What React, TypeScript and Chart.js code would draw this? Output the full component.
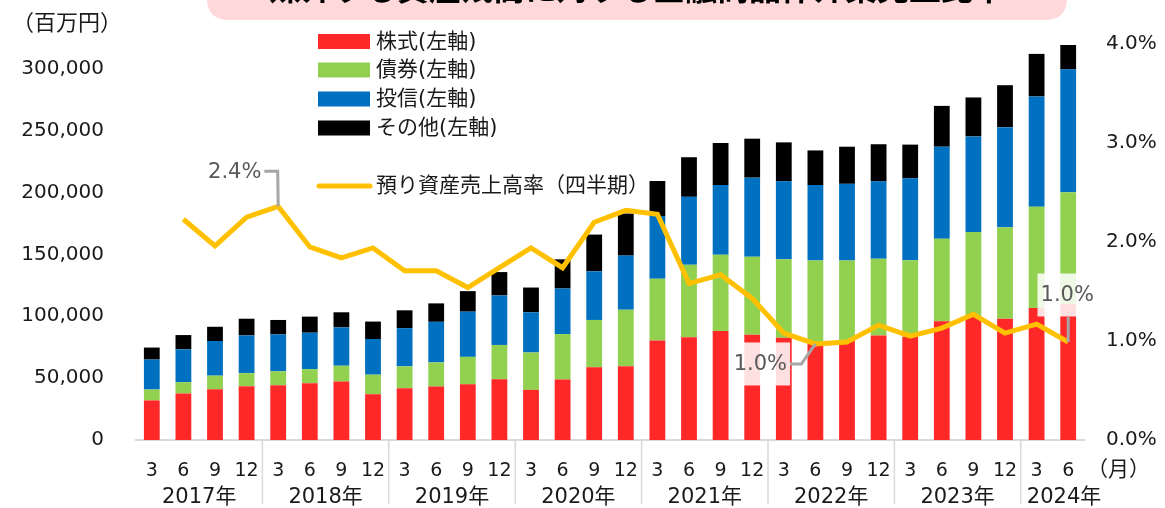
import React, { useEffect, useRef } from "react";
import { Chart, registerables } from "chart.js";

Chart.register(...registerables);

const TITLE = "媒介する資産残高に対する金融商品仲介業売上比率";
const UNIT_LEFT = "（百万円）";
const UNIT_X = "（月）";

const categories = [
  "2017/3", "2017/6", "2017/9", "2017/12",
  "2018/3", "2018/6", "2018/9", "2018/12",
  "2019/3", "2019/6", "2019/9", "2019/12",
  "2020/3", "2020/6", "2020/9", "2020/12",
  "2021/3", "2021/6", "2021/9", "2021/12",
  "2022/3", "2022/6", "2022/9", "2022/12",
  "2023/3", "2023/6", "2023/9", "2023/12",
  "2024/3", "2024/6",
];

// 百万円
const stocks = [
  32000, 37600, 41000, 43500,
  44300, 45900, 47200, 37000,
  41900, 43200, 45000, 49000,
  40500, 48800, 58700, 59500,
  80500, 83000, 88000, 85000,
  82700, 79000, 80000, 84500,
  83500, 96000, 100000, 97900,
  106700, 109800,
];
const bonds = [
  8800, 9100, 11000, 10500,
  11200, 11400, 12800, 15800,
  17600, 19500, 22200, 27800,
  30200, 36800, 38300, 45800,
  49900, 58600, 61600, 63000,
  63300, 66000, 65000, 61900,
  61800, 66700, 68000, 74100,
  81800, 90500,
];
const funds = [
  24200, 26600, 28000, 30500,
  29800, 29400, 31000, 28800,
  30900, 32800, 36500, 40000,
  32500, 36800, 39300, 43700,
  50600, 54900, 56400, 64000,
  63000, 61000, 62000, 62600,
  66200, 74300, 77300, 80800,
  89100, 99200,
];
const others = [
  9700, 11500, 11500, 13500,
  11700, 13000, 12200, 14100,
  14400, 14900, 16600, 18900,
  20000, 23600, 29700, 34000,
  28300, 32000, 34000, 31500,
  31500, 28000, 30000, 30000,
  27200, 33000, 31500, 33900,
  34400, 19700,
];
// %
const salesRatio = [
  null, 2.23, 1.96, 2.25,
  2.36, 1.95, 1.84, 1.94,
  1.71, 1.71, 1.54, 1.74,
  1.94, 1.74, 2.2, 2.32,
  2.28, 1.58, 1.67, 1.43,
  1.08, 0.97, 0.99, 1.16,
  1.05, 1.13, 1.27, 1.08,
  1.17, 0.99,
];

const seriesLabels = ["株式(左軸)", "債券(左軸)", "投信(左軸)", "その他(左軸)"];
const seriesColors = ["#FF2828", "#92D050", "#0070C0", "#000000"];
const lineLabel = "預り資産売上高率（四半期）";
const lineColor = "#FFC000";

// indices of line points carrying a data label
const labelledPoints = [4, 21, 29];

const leftTicks = [0, 50000, 100000, 150000, 200000, 250000, 300000];
const LEFT_MAX = 320000;
const rightTicks = [0, 1, 2, 3, 4];
const RIGHT_MAX = 4;

const FONT = "'DejaVu Sans', 'Noto Sans CJK JP', sans-serif";

const labelLayout: Record<number, { dx: number; dy: number; leader: number[][] }> = {
  4: { dx: -43.5, dy: -35, leader: [[-15, -35], [-0.5, -35], [0, 0]] },
  21: { dx: -55, dy: 20, leader: [[-26, 20], [-14, 20], [0, 0]] },
  29: { dx: -1, dy: -47, leader: [[0, -25], [0, 0]] },
};

function roundRect(ctx: CanvasRenderingContext2D, x: number, y: number, w: number, h: number, r: number) {
  ctx.beginPath();
  ctx.moveTo(x + r, y);
  ctx.lineTo(x + w - r, y);
  ctx.quadraticCurveTo(x + w, y, x + w, y + r);
  ctx.lineTo(x + w, y + h - r);
  ctx.quadraticCurveTo(x + w, y + h, x + w - r, y + h);
  ctx.lineTo(x + r, y + h);
  ctx.quadraticCurveTo(x, y + h, x, y + h - r);
  ctx.lineTo(x, y + r);
  ctx.quadraticCurveTo(x, y, x + r, y);
  ctx.closePath();
}

const overlay = {
  id: "overlay",
  afterDatasetsDraw(chart: any) {
    const ctx: CanvasRenderingContext2D = chart.ctx;
    const meta = chart.getDatasetMeta(0);
    ctx.save();
    ctx.font = `21px ${FONT}`;
    ctx.textAlign = "center";
    ctx.textBaseline = "middle";
    labelledPoints.forEach((i) => {
      const pt = meta.data[i];
      const v = salesRatio[i];
      if (!pt || v == null) return;
      const lay = labelLayout[i];
      const txt = v.toFixed(1) + "%";
      const tw = ctx.measureText(txt).width;
      const cx = pt.x + lay.dx;
      const cy = pt.y + lay.dy;
      ctx.strokeStyle = "#A6A6A6";
      ctx.lineWidth = 3;
      ctx.beginPath();
      lay.leader.forEach(([lx, ly], k) => {
        if (k === 0) ctx.moveTo(pt.x + lx, pt.y + ly);
        else ctx.lineTo(pt.x + lx, pt.y + ly);
      });
      ctx.stroke();
      ctx.fillStyle = "rgba(255,255,255,0.86)";
      ctx.fillRect(cx - tw / 2 - 3, cy - 21.5, tw + 6, 43);
      ctx.fillStyle = "#595959";
      ctx.fillText(txt, cx, cy + 1);
    });
    ctx.restore();
  },
  afterDraw(chart: any) {
    const ctx: CanvasRenderingContext2D = chart.ctx;
    const xs = chart.scales.x;
    const ca = chart.chartArea;
    ctx.save();

    // title box (clipped at top)
    ctx.fillStyle = "#FFD9D9";
    roundRect(ctx, 207, -40, 860, 60, 22);
    ctx.fill();
    ctx.fillStyle = "#000000";
    ctx.font = `bold 32px ${FONT}`;
    ctx.textAlign = "center";
    ctx.textBaseline = "middle";
    ctx.fillText(TITLE, 637, -8);

    // unit labels
    ctx.fillStyle = "#1a1a1a";
    ctx.font = `22px ${FONT}`;
    ctx.textAlign = "left";
    ctx.fillText(UNIT_LEFT, 12, 24);
    ctx.font = `21px ${FONT}`;
    ctx.fillText(UNIT_X, 1087, 471);

    // month labels
    ctx.textAlign = "center";
    ctx.font = `19px ${FONT}`;
    categories.forEach((c, i) => {
      const m = c.split("/")[1];
      ctx.fillText(m, xs.getPixelForValue(i), 471);
    });

    // year groups
    const groups: { year: string; first: number; last: number }[] = [];
    categories.forEach((c, i) => {
      const y = c.split("/")[0];
      const g = groups[groups.length - 1];
      if (g && g.year === y) g.last = i;
      else groups.push({ year: y, first: i, last: i });
    });
    ctx.font = `21px ${FONT}`;
    ctx.strokeStyle = "#D9D9D9";
    ctx.lineWidth = 1.5;
    groups.forEach((g, gi) => {
      const x0 = xs.getPixelForValue(g.first);
      const x1 = xs.getPixelForValue(g.last);
      let sepLeft = ca.left;
      if (gi > 0) {
        sepLeft = (xs.getPixelForValue(g.first - 1) + x0) / 2;
        ctx.beginPath();
        ctx.moveTo(sepLeft, ca.bottom);
        ctx.lineTo(sepLeft, 504);
        ctx.stroke();
      }
      const txt = g.year + "年";
      const tw = ctx.measureText(txt).width;
      let cx = (x0 + x1) / 2;
      cx = Math.max(cx, sepLeft + tw / 2 + 6);
      ctx.fillText(txt, cx, 498);
    });

    // legend
    ctx.textAlign = "left";
    ctx.textBaseline = "middle";
    ctx.font = `21px ${FONT}`;
    const rows = [41.5, 70, 99, 128];
    seriesLabels.forEach((lab, i) => {
      ctx.fillStyle = seriesColors[i];
      ctx.fillRect(318, rows[i] - 7.5, 52, 15);
      ctx.fillStyle = "#1a1a1a";
      ctx.fillText(lab, 376, rows[i] + 1);
    });
    ctx.strokeStyle = lineColor;
    ctx.lineWidth = 5;
    ctx.lineCap = "round";
    ctx.beginPath();
    ctx.moveTo(319, 186);
    ctx.lineTo(370, 186);
    ctx.stroke();
    ctx.fillStyle = "#1a1a1a";
    ctx.fillText(lineLabel, 376, 187);

    ctx.restore();
  },
};

export default function App() {
  const ref = useRef<HTMLCanvasElement>(null);
  useEffect(() => {
    document.body.style.margin = "0";
    const barSets = [stocks, bonds, funds, others].map((d, i) => ({
      type: "bar" as const,
      label: seriesLabels[i],
      data: d,
      backgroundColor: seriesColors[i],
      yAxisID: "y",
      order: 1,
      stack: "s",
    }));
    const chart = new Chart(ref.current!, {
      type: "bar",
      data: {
        labels: categories,
        datasets: [
          {
            type: "line" as const,
            label: lineLabel,
            data: salesRatio as any,
            borderColor: lineColor,
            backgroundColor: lineColor,
            borderWidth: 5,
            pointRadius: 0,
            tension: 0,
            yAxisID: "y1",
            order: 0,
          } as any,
          ...barSets,
        ],
      },
      options: {
        responsive: false,
        animation: false,
        devicePixelRatio: 1,
        layout: { padding: { top: 40.5, left: 0, right: 0, bottom: 0 } },
        plugins: {
          legend: { display: false },
          tooltip: { enabled: false },
          title: { display: false },
        },
        datasets: { bar: { categoryPercentage: 1, barPercentage: 0.5 } },
        scales: {
          x: {
            stacked: true,
            grid: { display: false, drawTicks: false },
            border: { display: true, color: "#D9D9D9", width: 2 },
            ticks: { display: false },
            afterFit: (s: any) => {
              s.height = 68;
            },
          },
          y: {
            stacked: true,
            position: "left",
            min: 0,
            max: LEFT_MAX,
            grid: { display: false, drawTicks: false },
            border: { display: false },
            afterBuildTicks: (s: any) => {
              s.ticks = leftTicks.map((v) => ({ value: v }));
            },
            ticks: {
              padding: 32,
              color: "#1a1a1a",
              font: { family: FONT, size: 20 },
              callback: (v: any) => Number(v).toLocaleString("en-US"),
            },
            afterFit: (s: any) => {
              s.width = 136;
            },
          },
          y1: {
            position: "right",
            min: 0,
            max: RIGHT_MAX,
            grid: { display: false, drawTicks: false },
            border: { display: false },
            afterBuildTicks: (s: any) => {
              s.ticks = rightTicks.map((v) => ({ value: v }));
            },
            ticks: {
              padding: 22,
              color: "#1a1a1a",
              font: { family: FONT, size: 20 },
              callback: (v: any) => Number(v).toFixed(1) + "%",
            },
            afterFit: (s: any) => {
              s.width = 81;
            },
          },
        },
      } as any,
      plugins: [overlay],
    });
    return () => chart.destroy();
  }, []);
  return (
    <div style={{ position: "absolute", left: 0, top: 0, width: 1165, height: 508 }}>
      <canvas ref={ref} width={1165} height={508} style={{ display: "block", width: 1165, height: 508 }} />
    </div>
  );
}
